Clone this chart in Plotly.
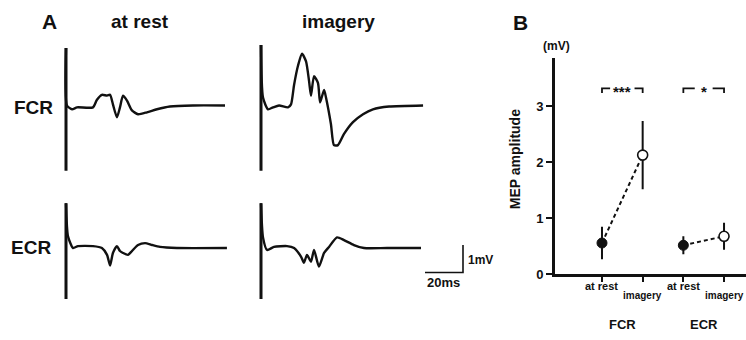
import plotly.graph_objects as go

W, H = 746, 340

# ---------------- Panel A: superimposed MEP sweeps (time in ms, voltage in mV) ----------------
fcr_rest_t = [0, 0, 0.5, 3.2, 5.8, 14.2, 16.3, 18.9, 21.6, 23.2, 24.7, 26.8, 28.4, 30.0, 32.1, 34.7,
              37.9, 42.6, 47.9, 54.7, 66.8, 83.7]
fcr_rest_v = [-2.39, 2.1, 0.0, -0.14, -0.07, -0.07, 0.21, 0.39, 0.36, 0.39, 0.04, -0.43, -0.07, 0.36,
              0.18, -0.18, -0.32, -0.25, -0.14, -0.04, 0.0, 0.0]

fcr_img_t = [0, 0, 1.05, 3.7, 6.3, 9.5, 14.2, 15.8, 17.4, 19.5, 21.6, 23.7, 25.3, 26.3, 27.9, 30.0,
             31.1, 33.2, 34.2, 36.8, 38.4, 40.5, 43.7, 48.4, 53.7, 58.9, 67.4, 85.3]
fcr_img_v = [-2.39, 2.21, 0.29, -0.14, -0.07, 0.0, -0.07, 0.04, 0.75, 1.46, 1.89, 1.61, 0.89, 0.36,
             1.07, 0.82, 0.11, 0.57, 0.29, -0.68, -1.45, -1.45, -1.04, -0.61, -0.32, -0.14, -0.04, 0.0]

ecr_rest_t = [0, 0, 1.05, 3.7, 6.3, 14.2, 18.9, 21.6, 23.2, 24.7, 26.8, 28.4, 30.0, 32.6, 34.7, 37.9,
              41.6, 45.3, 49.5, 58.4, 84.7]
ecr_rest_v = [-1.86, 1.64, 0.43, 0.0, 0.07, 0.07, 0.0, -0.25, -0.64, -0.18, 0.07, -0.11, -0.18, -0.25,
              -0.11, 0.11, 0.18, 0.11, 0.04, 0.0, 0.0]

ecr_img_t = [0, 0, 1.05, 3.2, 6.8, 13.7, 17.4, 21.1, 22.6, 24.2, 26.3, 27.9, 30.5, 33.2, 35.8, 40.0,
             43.7, 48.9, 54.2, 66.3, 84.2]
ecr_img_v = [-1.86, 1.64, 0.39, -0.07, 0.04, 0.07, 0.0, -0.32, -0.54, -0.25, -0.5, -0.07, -0.68, -0.18,
             0.04, 0.39, 0.29, 0.11, 0.0, 0.0, 0.0]

scale_ms = 20   # horizontal calibration bar
scale_mv = 1    # vertical calibration bar

# ---------------- Panel B: MEP amplitude (mean +/- SD) ----------------
conditions = ["at rest", "imagery", "at rest", "imagery"]
muscles = ["FCR", "ECR"]
mep_mean = [0.56, 2.13, 0.52, 0.68]
mep_err = [0.29, 0.61, 0.16, 0.24]
significance = ["***", "*"]
y_ticks = [0, 1, 2, 3]

FONT = "Liberation Sans, Arial, Helvetica, sans-serif"
INK = "#111111"

# ---- geometry helpers (pixels -> domain) ----
MS_PX = 1.9
MV_PX = 28.0


def xdom(zero_px, r):
    left = zero_px + r[0] * MS_PX
    right = zero_px + r[1] * MS_PX
    return [left / W, right / W]


def ydom(base_px, r):
    bottom = base_px - r[0] * MV_PX
    top = base_px - r[1] * MV_PX
    return [1 - bottom / H, 1 - top / H]


rest_x0, img_x0 = 66, 261
fcr_base, ecr_base = 108, 254
rng_rest = [-2, 88]
rng_img = [-2, 108]
rng_fcr = [-2.5, 2.3]
rng_ecr = [-2.0, 1.8]

fig = go.Figure()

panels = [
    (fcr_rest_t, fcr_rest_v, "x", "y"),
    (fcr_img_t, fcr_img_v, "x2", "y2"),
    (ecr_rest_t, ecr_rest_v, "x3", "y3"),
    (ecr_img_t, ecr_img_v, "x4", "y4"),
]
for t, v, xa, ya in panels:
    # stimulus artefact (first two samples) drawn heavier
    fig.add_trace(go.Scatter(x=t[:2], y=v[:2], mode="lines", xaxis=xa, yaxis=ya,
                             line=dict(color=INK, width=3), hoverinfo="skip", showlegend=False))
    fig.add_trace(go.Scatter(x=t[1:], y=v[1:], mode="lines", xaxis=xa, yaxis=ya,
                             line=dict(color=INK, width=2.4, shape="spline", smoothing=0.6),
                             hoverinfo="skip", showlegend=False))

# calibration bars on the ECR imagery axes
corner_t = (463 - img_x0) / MS_PX
corner_v = (ecr_base - 279) / MV_PX
fig.add_trace(go.Scatter(x=[corner_t - scale_ms, corner_t, corner_t],
                         y=[corner_v, corner_v, corner_v + scale_mv],
                         mode="lines", xaxis="x4", yaxis="y4",
                         line=dict(color=INK, width=1.6), hoverinfo="skip", showlegend=False))

# ---- panel B ----
xpos = [1, 2, 3, 4]
for i in range(len(muscles)):
    fig.add_trace(go.Scatter(x=xpos[2 * i:2 * i + 2], y=mep_mean[2 * i:2 * i + 2], mode="lines",
                             xaxis="x5", yaxis="y5",
                             line=dict(color=INK, width=2, dash="4px,3px"),
                             hoverinfo="skip", showlegend=False))

fig.add_trace(go.Scatter(x=xpos[0::2], y=mep_mean[0::2], mode="markers", xaxis="x5", yaxis="y5",
                         error_y=dict(type="data", array=mep_err[0::2], thickness=2, width=0, color=INK),
                         marker=dict(size=10, color=INK, line=dict(color=INK, width=1)),
                         hoverinfo="skip", showlegend=False))
fig.add_trace(go.Scatter(x=xpos[1::2], y=mep_mean[1::2], mode="markers", xaxis="x5", yaxis="y5",
                         error_y=dict(type="data", array=mep_err[1::2], thickness=2, width=0, color=INK),
                         marker=dict(size=10, color="white", line=dict(color=INK, width=1.6)),
                         hoverinfo="skip", showlegend=False))

# significance brackets
br_y, br_tick = 3.32, 0.08
annotations = []
for i, s in enumerate(significance):
    a, b = xpos[2 * i], xpos[2 * i + 1]
    gap = 0.3 if len(s) > 1 else 0.22
    mid = (a + b) / 2
    fig.add_trace(go.Scatter(x=[a, a, mid - gap, None, mid + gap, b, b],
                             y=[br_y - br_tick, br_y, br_y, None, br_y, br_y, br_y - br_tick],
                             mode="lines", xaxis="x5", yaxis="y5",
                             line=dict(color=INK, width=1.8), hoverinfo="skip", showlegend=False))
    annotations.append(dict(x=mid, y=br_y, xref="x5", yref="y5", text=s, showarrow=False,
                            xanchor="center", yanchor="middle", yshift=-3,
                            font=dict(family=FONT, size=15, color=INK, weight="bold")))


def ptxt(text, px, py, size, **kw):
    d = dict(x=px / W, y=1 - py / H, xref="paper", yref="paper", text=text, showarrow=False,
             xanchor="center", yanchor="middle",
             font=dict(family=FONT, size=size, color=INK, weight="bold"))
    d.update(kw)
    return d


annotations += [
    ptxt("A", 49, 22, 21),
    ptxt("at rest", 140, 22, 19),
    ptxt("imagery", 338, 22, 19),
    ptxt("FCR", 33, 110, 19),
    ptxt("ECR", 31, 253, 19),
    ptxt("B", 520, 23, 21),
    ptxt("(mV)", 556, 47, 12),
    ptxt("MEP amplitude", 515, 163, 14, textangle=-90),
    ptxt("1mV", 466, 266, 12, xanchor="left"),
    ptxt("20ms", 444, 289, 13),
]
label_y = [293, 303, 293, 303]
for x, c, ly in zip(xpos, conditions, label_y):
    annotations.append(dict(x=x, y=1 - ly / H, xref="x5", yref="paper", text=c, showarrow=False,
                            xanchor="center", yanchor="middle",
                            font=dict(family=FONT, size=11 if c == "at rest" else 10, color=INK,
                                      weight="bold")))
for i, m in enumerate(muscles):
    annotations.append(dict(x=(xpos[2 * i] + xpos[2 * i + 1]) / 2, y=1 - 332 / H, xref="x5", yref="paper",
                            text=m, showarrow=False, xanchor="center", yanchor="middle",
                            font=dict(family=FONT, size=13, color=INK, weight="bold")))

hidden = dict(visible=False, showgrid=False, zeroline=False, fixedrange=True)

fig.update_layout(
    width=W, height=H,
    margin=dict(l=0, r=0, t=0, b=0),
    paper_bgcolor="white", plot_bgcolor="rgba(0,0,0,0)",
    font=dict(family=FONT, color=INK),
    annotations=annotations,
    xaxis=dict(domain=xdom(rest_x0, rng_rest), range=rng_rest, anchor="y", **hidden),
    yaxis=dict(domain=ydom(fcr_base, rng_fcr), range=rng_fcr, anchor="x", **hidden),
    xaxis2=dict(domain=xdom(img_x0, rng_img), range=rng_img, anchor="y2", **hidden),
    yaxis2=dict(domain=ydom(fcr_base, rng_fcr), range=rng_fcr, anchor="x2", **hidden),
    xaxis3=dict(domain=xdom(rest_x0, rng_rest), range=rng_rest, anchor="y3", **hidden),
    yaxis3=dict(domain=ydom(ecr_base, rng_ecr), range=rng_ecr, anchor="x3", **hidden),
    xaxis4=dict(domain=xdom(img_x0, rng_img), range=rng_img, anchor="y4", **hidden),
    yaxis4=dict(domain=ydom(ecr_base, rng_ecr), range=rng_ecr, anchor="x4", **hidden),
    xaxis5=dict(domain=[555 / W, 1.0], range=[-0.155, 4.54], anchor="y5",
                showgrid=False, zeroline=False, showline=True, linecolor=INK, linewidth=3,
                ticks="outside", ticklen=5, tickwidth=1.5, tickcolor=INK,
                tickvals=xpos, showticklabels=False, fixedrange=True),
    yaxis5=dict(domain=[1 - 281 / H, 1 - 59 / H], range=[0, 3.87], anchor="x5",
                showgrid=False, zeroline=False, showline=True, linecolor=INK, linewidth=3,
                ticks="outside", ticklen=6, tickwidth=2, tickcolor=INK,
                tickvals=y_ticks, ticktext=[str(v) for v in y_ticks],
                tickfont=dict(family=FONT, size=13, color=INK, weight="bold"),
                fixedrange=True),
)

post = (
    "var s=document.createElement('style');"
    "s.textContent='html,body{margin:0;padding:0;overflow:hidden;}';"
    "document.head.appendChild(s);"
    "var gd=document.getElementById('{plot_id}');"
    "var vw=document.documentElement.clientWidth||window.innerWidth;"
    "var vh=document.documentElement.clientHeight||window.innerHeight;"
    "if(vw>0&&vh>0){gd.style.width=vw+'px';gd.style.height=vh+'px';"
    "Plotly.relayout(gd,{width:vw,height:vh});}"
)
fig.write_html("out.html", config={"displayModeBar": False}, post_script=post)
